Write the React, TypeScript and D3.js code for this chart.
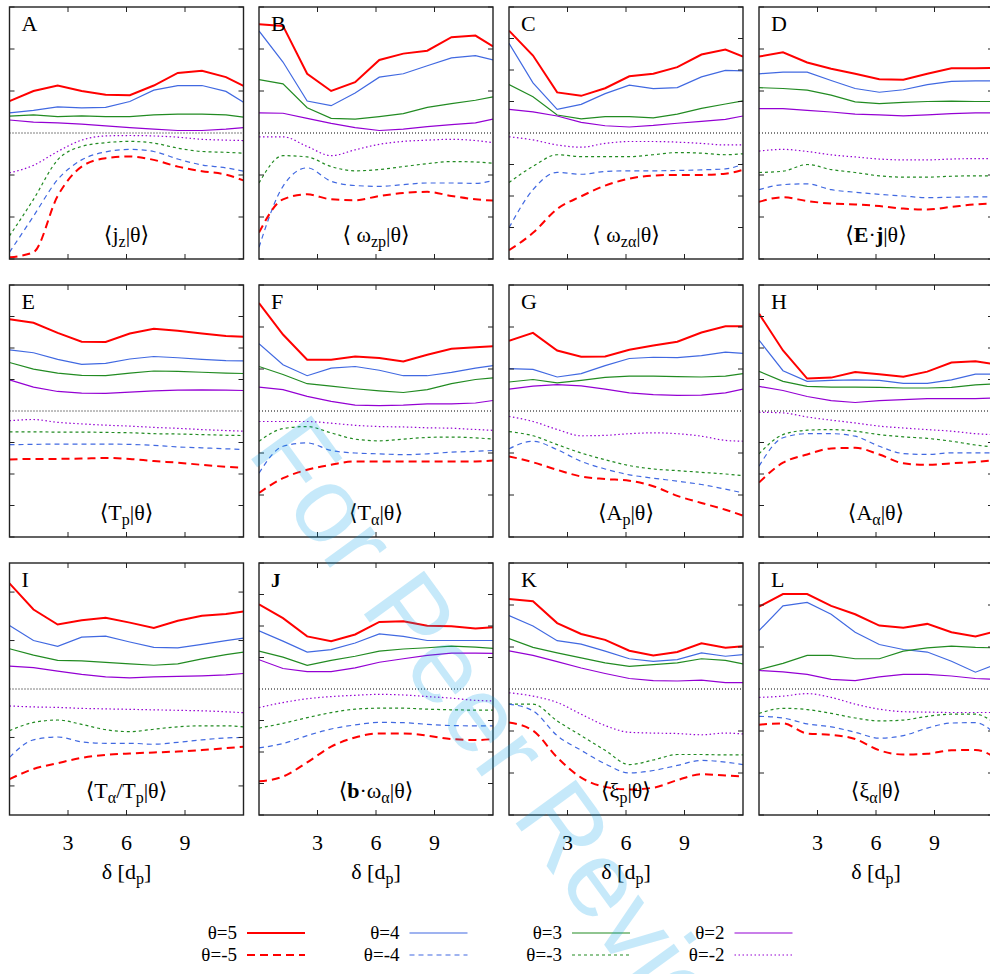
import React from "react";
import * as d3 from "d3";

// delta in units of d_p (sample positions along the x axis)
const delta = [0, 1.23, 2.47, 3.7, 4.93, 6.17, 7.4, 8.63, 9.87, 11.1, 12];
const xTicks = [3, 6, 9];

// theta values, in the order the series are stored below
const thetas = [5, 4, 3, 2, -2, -3, -4, -5];
const legendRows = [[5, 4, 3, 2], [-5, -4, -3, -2]];

// panel letters and half-range of the y axis (ticks every 1)
const letters = ["A", "B", "C", "D", "E", "F", "G", "H", "I", "J", "K", "L"];
const yHalf = [3, 3, 4, 3, 4, 3, 3, 4, 2.6, 4, 3, 3];

// series values, per panel, one row per theta (5,4,3,2,-2,-3,-4,-5)
const jz = [
  [0.76, 1.0, 1.13, 1.0, 0.91, 0.9, 1.13, 1.43, 1.48, 1.33, 1.12],
  [0.48, 0.54, 0.62, 0.6, 0.61, 0.75, 1.02, 1.13, 1.13, 0.99, 0.73],
  [0.4, 0.43, 0.39, 0.41, 0.39, 0.39, 0.43, 0.45, 0.45, 0.43, 0.38],
  [0.31, 0.26, 0.24, 0.21, 0.17, 0.13, 0.09, 0.06, 0.06, 0.09, 0.13],
  [-0.95, -0.77, -0.44, -0.17, -0.07, -0.06, -0.07, -0.1, -0.15, -0.17, -0.18],
  [-2.45, -1.58, -0.64, -0.32, -0.23, -0.2, -0.24, -0.36, -0.44, -0.46, -0.48],
  [-2.84, -1.98, -1.11, -0.64, -0.45, -0.39, -0.44, -0.62, -0.76, -0.83, -0.91],
  [-2.96, -2.84, -1.5, -0.8, -0.6, -0.56, -0.64, -0.8, -0.91, -0.99, -1.13],
];
const omegaZp = [
  [2.59, 2.55, 1.41, 1.0, 1.21, 1.74, 1.89, 1.96, 2.28, 2.32, 2.06],
  [2.43, 1.69, 0.76, 0.65, 0.95, 1.33, 1.41, 1.6, 1.79, 1.84, 1.74],
  [1.27, 1.17, 0.6, 0.35, 0.33, 0.39, 0.46, 0.61, 0.7, 0.78, 0.86],
  [0.48, 0.47, 0.35, 0.23, 0.13, 0.06, 0.09, 0.15, 0.2, 0.24, 0.33],
  [-0.09, -0.09, -0.32, -0.54, -0.4, -0.27, -0.2, -0.17, -0.15, -0.18, -0.23],
  [-1.19, -0.54, -0.57, -0.8, -0.9, -0.87, -0.8, -0.73, -0.68, -0.69, -0.72],
  [-2.72, -1.27, -0.83, -1.15, -1.25, -1.27, -1.23, -1.19, -1.19, -1.2, -1.13],
  [-2.37, -1.58, -1.46, -1.58, -1.6, -1.5, -1.43, -1.4, -1.5, -1.58, -1.61],
];
const omegaZa = [
  [3.25, 2.46, 1.29, 1.18, 1.42, 1.8, 1.88, 2.09, 2.49, 2.65, 2.43],
  [2.85, 1.59, 0.75, 0.91, 1.25, 1.52, 1.41, 1.44, 1.78, 1.99, 1.97],
  [1.54, 1.15, 0.57, 0.45, 0.52, 0.52, 0.48, 0.6, 0.78, 0.92, 1.02],
  [0.75, 0.67, 0.54, 0.34, 0.23, 0.19, 0.24, 0.31, 0.37, 0.43, 0.54],
  [-0.12, -0.22, -0.38, -0.45, -0.33, -0.27, -0.27, -0.29, -0.33, -0.38, -0.38],
  [-1.57, -1.06, -0.69, -0.75, -0.75, -0.75, -0.69, -0.62, -0.64, -0.69, -0.66],
  [-3.01, -1.8, -1.25, -1.31, -1.22, -1.2, -1.2, -1.19, -1.17, -1.14, -0.99],
  [-3.72, -3.17, -2.41, -2.01, -1.67, -1.45, -1.35, -1.33, -1.33, -1.29, -1.17],
];
const ej = [
  [1.82, 1.92, 1.68, 1.53, 1.41, 1.28, 1.27, 1.41, 1.54, 1.54, 1.55],
  [1.41, 1.45, 1.45, 1.25, 1.06, 0.97, 1.03, 1.15, 1.23, 1.24, 1.24],
  [1.08, 1.06, 1.02, 0.9, 0.74, 0.7, 0.73, 0.75, 0.76, 0.75, 0.75],
  [0.58, 0.58, 0.54, 0.5, 0.45, 0.43, 0.41, 0.43, 0.46, 0.48, 0.48],
  [-0.43, -0.39, -0.44, -0.52, -0.57, -0.62, -0.64, -0.64, -0.62, -0.61, -0.61],
  [-0.94, -0.91, -0.75, -0.87, -0.94, -1.02, -1.05, -1.05, -1.03, -1.02, -1.02],
  [-1.35, -1.23, -1.21, -1.35, -1.41, -1.46, -1.5, -1.54, -1.53, -1.52, -1.52],
  [-1.64, -1.53, -1.62, -1.68, -1.7, -1.74, -1.8, -1.82, -1.76, -1.7, -1.68],
];
const tp = [
  [2.91, 2.8, 2.48, 2.2, 2.19, 2.46, 2.61, 2.55, 2.46, 2.38, 2.36],
  [1.94, 1.85, 1.64, 1.48, 1.51, 1.65, 1.73, 1.69, 1.64, 1.6, 1.59],
  [1.54, 1.33, 1.2, 1.13, 1.12, 1.2, 1.27, 1.26, 1.23, 1.2, 1.19],
  [0.99, 0.76, 0.62, 0.57, 0.56, 0.6, 0.64, 0.66, 0.67, 0.66, 0.65],
  [-0.31, -0.27, -0.36, -0.41, -0.45, -0.48, -0.52, -0.55, -0.59, -0.62, -0.64],
  [-0.66, -0.66, -0.67, -0.67, -0.68, -0.69, -0.72, -0.73, -0.75, -0.77, -0.78],
  [-1.07, -1.06, -1.05, -1.05, -1.05, -1.06, -1.09, -1.14, -1.17, -1.2, -1.22],
  [-1.54, -1.52, -1.52, -1.51, -1.49, -1.52, -1.59, -1.64, -1.71, -1.77, -1.8],
];
const ta = [
  [2.57, 1.82, 1.22, 1.22, 1.3, 1.26, 1.18, 1.34, 1.48, 1.52, 1.54],
  [1.6, 1.1, 0.84, 1.02, 1.06, 0.97, 0.84, 0.84, 0.92, 1.02, 1.08],
  [1.06, 0.87, 0.65, 0.59, 0.53, 0.48, 0.44, 0.51, 0.65, 0.75, 0.79],
  [0.57, 0.51, 0.35, 0.23, 0.14, 0.13, 0.14, 0.17, 0.17, 0.19, 0.25],
  [-0.25, -0.25, -0.25, -0.29, -0.34, -0.37, -0.38, -0.4, -0.41, -0.44, -0.46],
  [-0.72, -0.42, -0.37, -0.52, -0.67, -0.71, -0.67, -0.63, -0.62, -0.64, -0.67],
  [-1.48, -0.84, -0.76, -0.94, -1.0, -1.02, -1.04, -1.02, -0.98, -0.96, -0.94],
  [-1.95, -1.6, -1.4, -1.28, -1.2, -1.2, -1.2, -1.2, -1.2, -1.2, -1.18],
];
const ap = [
  [1.67, 1.86, 1.44, 1.29, 1.3, 1.46, 1.56, 1.65, 1.87, 2.02, 2.02],
  [1.01, 0.99, 0.81, 0.89, 1.08, 1.25, 1.28, 1.27, 1.32, 1.4, 1.37],
  [0.69, 0.75, 0.67, 0.73, 0.8, 0.83, 0.83, 0.82, 0.81, 0.83, 0.89],
  [0.52, 0.59, 0.63, 0.6, 0.52, 0.43, 0.39, 0.37, 0.38, 0.43, 0.52],
  [-0.13, -0.25, -0.44, -0.59, -0.58, -0.54, -0.52, -0.54, -0.6, -0.7, -0.72],
  [-0.49, -0.59, -0.8, -1.0, -1.16, -1.3, -1.38, -1.42, -1.46, -1.5, -1.54],
  [-0.9, -0.72, -0.92, -1.2, -1.38, -1.52, -1.6, -1.67, -1.75, -1.86, -1.95],
  [-1.08, -1.22, -1.4, -1.56, -1.62, -1.66, -1.79, -2.02, -2.19, -2.35, -2.49],
];
const aa = [
  [3.09, 1.92, 1.03, 1.06, 1.24, 1.17, 1.09, 1.25, 1.54, 1.58, 1.49],
  [2.25, 1.28, 0.94, 0.97, 0.99, 0.97, 0.88, 0.88, 0.99, 1.17, 1.17],
  [1.26, 0.94, 0.78, 0.76, 0.76, 0.75, 0.73, 0.73, 0.75, 0.83, 0.86],
  [0.78, 0.65, 0.46, 0.33, 0.27, 0.33, 0.36, 0.39, 0.39, 0.39, 0.41],
  [-0.04, -0.06, -0.19, -0.29, -0.38, -0.48, -0.54, -0.59, -0.64, -0.72, -0.75],
  [-1.36, -0.75, -0.61, -0.59, -0.64, -0.75, -0.82, -0.87, -0.96, -1.08, -1.14],
  [-1.75, -0.85, -0.72, -0.72, -0.8, -1.12, -1.35, -1.38, -1.33, -1.33, -1.33],
  [-2.27, -1.64, -1.38, -1.19, -1.17, -1.38, -1.66, -1.71, -1.66, -1.62, -1.57],
];
const taTp = [
  [2.18, 1.64, 1.33, 1.42, 1.47, 1.37, 1.26, 1.41, 1.51, 1.55, 1.6],
  [1.31, 1.0, 0.88, 1.07, 1.09, 0.97, 0.86, 0.85, 0.92, 1.0, 1.05],
  [0.83, 0.7, 0.59, 0.58, 0.55, 0.52, 0.49, 0.52, 0.62, 0.71, 0.76],
  [0.47, 0.44, 0.37, 0.3, 0.25, 0.23, 0.25, 0.26, 0.27, 0.29, 0.32],
  [-0.35, -0.37, -0.38, -0.4, -0.41, -0.42, -0.43, -0.44, -0.45, -0.47, -0.49],
  [-0.86, -0.69, -0.64, -0.73, -0.84, -0.88, -0.83, -0.78, -0.76, -0.76, -0.78],
  [-1.41, -1.05, -0.99, -1.09, -1.12, -1.12, -1.14, -1.1, -1.05, -1.01, -1.0],
  [-1.86, -1.65, -1.53, -1.42, -1.36, -1.33, -1.31, -1.29, -1.26, -1.22, -1.19],
];
const bOmegaA = [
  [2.69, 2.25, 1.67, 1.52, 1.73, 2.13, 2.15, 2.01, 1.99, 1.92, 1.96],
  [1.85, 1.52, 1.17, 1.25, 1.46, 1.75, 1.67, 1.54, 1.54, 1.54, 1.54],
  [1.2, 1.01, 0.75, 0.91, 1.04, 1.2, 1.27, 1.31, 1.36, 1.33, 1.29],
  [0.93, 0.65, 0.55, 0.55, 0.67, 0.85, 0.96, 1.07, 1.14, 1.14, 1.13],
  [-0.59, -0.43, -0.31, -0.24, -0.2, -0.17, -0.19, -0.24, -0.29, -0.36, -0.38],
  [-1.24, -1.09, -0.91, -0.75, -0.64, -0.61, -0.61, -0.64, -0.66, -0.67, -0.67],
  [-1.87, -1.73, -1.48, -1.27, -1.14, -1.06, -1.07, -1.12, -1.16, -1.17, -1.17],
  [-2.93, -2.78, -2.33, -1.83, -1.54, -1.41, -1.41, -1.48, -1.59, -1.62, -1.59],
];
const xiP = [
  [2.14, 2.09, 1.57, 1.31, 1.17, 0.91, 0.8, 0.88, 1.09, 0.98, 1.02],
  [1.75, 1.5, 1.15, 1.07, 0.9, 0.72, 0.66, 0.7, 0.86, 0.78, 0.82],
  [1.2, 0.99, 0.86, 0.74, 0.62, 0.54, 0.58, 0.62, 0.72, 0.68, 0.6],
  [0.91, 0.8, 0.65, 0.5, 0.37, 0.25, 0.2, 0.19, 0.21, 0.15, 0.15],
  [-0.09, -0.17, -0.32, -0.6, -0.87, -1.03, -1.05, -1.06, -1.09, -1.05, -1.07],
  [-0.36, -0.36, -0.76, -1.11, -1.46, -1.8, -1.69, -1.56, -1.56, -1.57, -1.57],
  [-0.36, -0.52, -1.11, -1.46, -1.78, -2.0, -1.94, -1.82, -1.7, -1.74, -1.8],
  [-0.8, -0.99, -1.63, -2.11, -2.33, -2.39, -2.35, -2.17, -2.03, -2.06, -2.08],
];
const xiA = [
  [1.96, 2.26, 2.26, 1.98, 1.78, 1.51, 1.46, 1.55, 1.35, 1.25, 1.36],
  [1.39, 1.98, 2.06, 1.78, 1.35, 1.06, 0.94, 0.88, 0.66, 0.4, 0.56],
  [0.46, 0.61, 0.8, 0.8, 0.72, 0.72, 0.9, 0.98, 1.02, 0.99, 0.98],
  [0.44, 0.41, 0.35, 0.23, 0.2, 0.29, 0.35, 0.35, 0.31, 0.25, 0.23],
  [-0.2, -0.17, -0.11, -0.2, -0.36, -0.48, -0.54, -0.55, -0.56, -0.56, -0.56],
  [-0.58, -0.46, -0.49, -0.58, -0.69, -0.76, -0.74, -0.65, -0.6, -0.6, -0.78],
  [-0.65, -0.69, -0.83, -0.9, -1.03, -1.17, -1.11, -0.93, -0.81, -0.8, -1.02],
  [-0.85, -0.82, -1.06, -1.09, -1.19, -1.46, -1.56, -1.54, -1.46, -1.45, -1.6],
];
const panelData = [jz, omegaZp, omegaZa, ej, tp, ta, ap, aa, taTp, bOmegaA, xiP, xiA];

// label pieces: [text, kind] where kind is "" | "sub" | "bold"
const titles = [
  [["⟨j", ""], ["z", "sub"], ["|θ⟩", ""]],
  [["⟨ ω", ""], ["zp", "sub"], ["|θ⟩", ""]],
  [["⟨ ω", ""], ["zα", "sub"], ["|θ⟩", ""]],
  [["⟨", ""], ["E", "bold"], ["·", ""], ["j", "bold"], ["|θ⟩", ""]],
  [["⟨T", ""], ["p", "sub"], ["|θ⟩", ""]],
  [["⟨T", ""], ["α", "sub"], ["|θ⟩", ""]],
  [["⟨A", ""], ["p", "sub"], ["|θ⟩", ""]],
  [["⟨A", ""], ["α", "sub"], ["|θ⟩", ""]],
  [["⟨T", ""], ["α", "sub"], ["/T", ""], ["p", "sub"], ["|θ⟩", ""]],
  [["⟨", ""], ["b", "bold"], ["·ω", ""], ["α", "sub"], ["|θ⟩", ""]],
  [["⟨ξ", ""], ["p", "sub"], ["|θ⟩", ""]],
  [["⟨ξ", ""], ["α", "sub"], ["|θ⟩", ""]],
];

const styleOf = (t: number) => {
  const color = { 5: "#ff0000", 4: "#4169e1", 3: "#228b22", 2: "#9400d3" }[Math.abs(t)];
  const width = Math.abs(t) === 5 ? 2 : 1.2;
  const dash = t > 0 ? undefined : { 2: "1.5,2.5", 3: "3,3", 4: "5,4", 5: "8,5" }[Math.abs(t)];
  return { color, width, dash };
};

const W = 990, H = 974;
const colX = [9.5, 259, 509, 759];
const rowY = [7, 285, 563];
const pw = 234, ph = 252;
const serif = "'Liberation Serif', 'Times New Roman', 'DejaVu Serif', serif";

const Title = ({ parts, x, y }) => {
  let shifted = false;
  return (
    <text x={x} y={y} textAnchor="middle" fontSize={22} fontFamily={serif}>
      {parts.map(([t, kind], i) => {
        let dy = 0;
        if (kind === "sub" && !shifted) { dy = 5; shifted = true; }
        else if (kind !== "sub" && shifted) { dy = -5; shifted = false; }
        return (
          <tspan key={i} dy={dy} fontSize={kind === "sub" ? 16 : 22}
            fontWeight={kind === "bold" ? "bold" : "normal"}>{t}</tspan>
        );
      })}
    </text>
  );
};

const Panel = ({ idx }) => {
  const col = idx % 4, row = Math.floor(idx / 4);
  const x0 = colX[col], y0 = rowY[row];
  const x = d3.scaleLinear().domain([0, 12]).range([x0, x0 + pw]);
  const y = d3.scaleLinear().domain([-yHalf[idx], yHalf[idx]]).range([y0 + ph, y0]);
  const yTicks = d3.range(-Math.floor(yHalf[idx]), Math.floor(yHalf[idx]) + 1).filter((v) => v !== 0);
  const series = panelData[idx];
  const clipId = `clip${idx}`;
  const tick = 5;
  return (
    <g>
      <clipPath id={clipId}>
        <rect x={x0} y={y0} width={pw} height={ph} />
      </clipPath>
      <line x1={x0} x2={x0 + pw} y1={y(0)} y2={y(0)} stroke="#000" strokeWidth={1} strokeDasharray="1,2" />
      <g clipPath={`url(#${clipId})`}>
        {series.map((vals, si) => {
          const t = thetas[si];
          const s = styleOf(t);
          const gen = d3.line<number>()
            .x((_, i) => x(delta[i]))
            .y((v) => y(v))
            .curve(t > 0 ? d3.curveLinear : d3.curveMonotoneX);
          return (
            <path key={si} d={gen(vals) || ""} fill="none" stroke={s.color}
              strokeWidth={s.width} strokeDasharray={s.dash} />
          );
        })}
      </g>
      {yTicks.map((v) => (
        <g key={v} stroke="#222" strokeWidth={1}>
          <line x1={x0} x2={x0 + tick} y1={y(v)} y2={y(v)} />
          <line x1={x0 + pw - tick} x2={x0 + pw} y1={y(v)} y2={y(v)} />
        </g>
      ))}
      {xTicks.map((v) => (
        <g key={v} stroke="#222" strokeWidth={1}>
          <line x1={x(v)} x2={x(v)} y1={y0} y2={y0 + tick} />
          <line x1={x(v)} x2={x(v)} y1={y0 + ph - tick} y2={y0 + ph} />
        </g>
      ))}
      <rect x={x0} y={y0} width={pw} height={ph} fill="none" stroke="#222" strokeWidth={1.4} />
      <text x={x0 + 12} y={y0 + 24} fontSize={letters[idx] === "J" ? 19 : 22}
        fontWeight={letters[idx] === "J" ? "bold" : "normal"} fontFamily={serif}>{letters[idx]}</text>
      <Title parts={titles[idx]} x={x0 + pw / 2} y={y0 + ph - 17} />
      {row === 2 && (
        <g fontFamily={serif} fontSize={22}>
          {xTicks.map((v) => (
            <text key={v} x={x(v)} y={y0 + ph + 35} textAnchor="middle">{v}</text>
          ))}
          <text x={x0 + pw / 2} y={y0 + ph + 64} textAnchor="middle">
            δ [d<tspan dy={5} fontSize={16}>p</tspan><tspan dy={-5}>]</tspan>
          </text>
        </g>
      )}
    </g>
  );
};

const Legend = () => (
  <g fontFamily={serif} fontSize={19}>
    {legendRows.map((rowThetas, r) =>
      rowThetas.map((t, c) => {
        const s = styleOf(t);
        const tx = 237 + c * 162.5;
        const ly = 933 + r * 22;
        return (
          <g key={t}>
            <text x={tx} y={ly + 6} textAnchor="end">θ={t}</text>
            <line x1={tx + 10} x2={tx + 68} y1={ly} y2={ly} stroke={s.color}
              strokeWidth={s.width} strokeDasharray={s.dash} />
          </g>
        );
      })
    )}
  </g>
);

export default function App() {
  return (
    <svg width={W} height={H} style={{ position: "absolute", left: 0, top: 0, background: "#fff" }}>
      <rect width={W} height={H} fill="#fff" />
      {letters.map((_, i) => <Panel key={i} idx={i} />)}
      <Legend />
      <text x={246} y={452} transform="rotate(54 246 452)" fontSize={108}
        fontFamily="'Liberation Sans', Arial, sans-serif" fill="#00a0e9" opacity={0.22}>
        For Peer Review
      </text>
    </svg>
  );
}
